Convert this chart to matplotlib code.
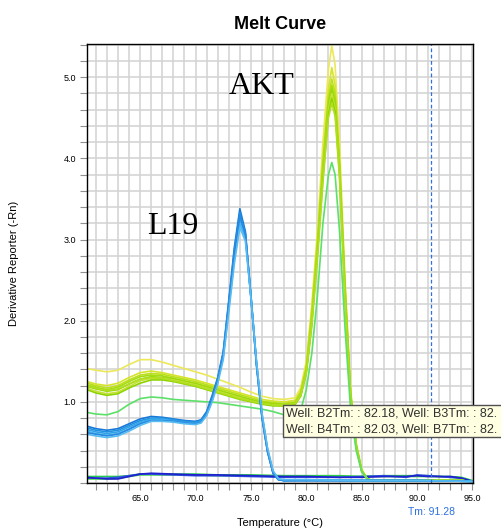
import numpy as np
import matplotlib
matplotlib.use('Agg')
import matplotlib.pyplot as plt
from matplotlib.patches import Rectangle
from matplotlib.ticker import MultipleLocator, FormatStrFormatter

plt.rcParams['font.family'] = ['Liberation Sans', 'DejaVu Sans']

# AKT wells (8 main + 1 low)
akt_temp = [60.2, 61, 62, 63, 64, 65, 66, 67, 68, 69, 70, 71, 72, 73, 74, 75, 76, 77, 78, 79,
            79.5, 80, 80.5, 81, 81.5, 82, 82.3, 82.6, 83, 83.5, 84, 84.5, 85, 85.5, 86, 88, 90, 92, 94, 95]
akt_wells = [
    [1.41, 1.39, 1.37, 1.39, 1.46, 1.52, 1.52, 1.49, 1.45, 1.41, 1.37, 1.33, 1.28, 1.23, 1.18, 1.12, 1.07, 1.04, 1.03, 1.05,
     1.18, 1.50, 2.20, 3.10, 4.20, 5.10, 5.39, 5.15, 4.20, 2.50, 1.15, 0.50, 0.17, 0.05, 0.03, 0.03, 0.03, 0.03, 0.03, 0.02],
    [1.25, 1.22, 1.20, 1.23, 1.30, 1.36, 1.38, 1.36, 1.33, 1.30, 1.27, 1.23, 1.19, 1.15, 1.11, 1.07, 1.03, 1.01, 1.00, 1.02,
     1.14, 1.45, 2.15, 3.00, 4.00, 4.85, 5.12, 4.90, 4.00, 2.45, 1.12, 0.48, 0.16, 0.05, 0.03, 0.03, 0.03, 0.03, 0.03, 0.02],
    [1.23, 1.20, 1.17, 1.20, 1.27, 1.33, 1.35, 1.34, 1.31, 1.28, 1.25, 1.21, 1.17, 1.13, 1.09, 1.05, 1.01, 0.99, 0.98, 1.00,
     1.12, 1.42, 2.10, 2.95, 3.95, 4.75, 4.98, 4.80, 3.95, 2.40, 1.10, 0.48, 0.16, 0.05, 0.03, 0.03, 0.03, 0.03, 0.03, 0.02],
    [1.21, 1.18, 1.15, 1.18, 1.25, 1.31, 1.33, 1.32, 1.29, 1.26, 1.23, 1.19, 1.15, 1.11, 1.07, 1.03, 1.00, 0.98, 0.97, 0.99,
     1.10, 1.40, 2.05, 2.90, 3.90, 4.70, 4.90, 4.72, 3.90, 2.35, 1.08, 0.46, 0.15, 0.05, 0.03, 0.03, 0.03, 0.03, 0.03, 0.02],
    [1.19, 1.16, 1.13, 1.15, 1.22, 1.28, 1.31, 1.30, 1.28, 1.25, 1.22, 1.18, 1.14, 1.10, 1.06, 1.02, 0.99, 0.97, 0.96, 0.98,
     1.09, 1.38, 2.00, 2.85, 3.85, 4.65, 4.85, 4.68, 3.88, 2.35, 1.10, 0.47, 0.15, 0.05, 0.03, 0.03, 0.03, 0.03, 0.03, 0.02],
    [1.17, 1.13, 1.10, 1.12, 1.19, 1.26, 1.29, 1.29, 1.27, 1.24, 1.21, 1.17, 1.13, 1.09, 1.05, 1.01, 0.98, 0.96, 0.95, 0.97,
     1.08, 1.37, 2.00, 2.85, 3.80, 4.60, 4.80, 4.62, 3.85, 2.30, 1.05, 0.45, 0.15, 0.05, 0.03, 0.03, 0.03, 0.03, 0.03, 0.02],
    [1.15, 1.11, 1.08, 1.10, 1.17, 1.23, 1.27, 1.27, 1.25, 1.22, 1.19, 1.15, 1.11, 1.07, 1.03, 1.00, 0.97, 0.95, 0.95, 0.97,
     1.07, 1.35, 1.95, 2.80, 3.75, 4.55, 4.74, 4.58, 3.80, 2.30, 1.05, 0.45, 0.15, 0.05, 0.03, 0.03, 0.03, 0.03, 0.03, 0.02],
    [1.20, 1.17, 1.14, 1.16, 1.22, 1.28, 1.30, 1.29, 1.26, 1.23, 1.20, 1.16, 1.12, 1.08, 1.04, 1.01, 0.98, 0.96, 0.96, 0.98,
     1.08, 1.36, 1.95, 2.75, 3.70, 4.50, 4.68, 4.52, 3.75, 2.25, 1.02, 0.44, 0.14, 0.05, 0.03, 0.03, 0.03, 0.03, 0.03, 0.02],
    [0.87, 0.85, 0.84, 0.88, 0.97, 1.04, 1.06, 1.05, 1.03, 1.02, 1.01, 1.00, 0.99, 0.97, 0.95, 0.93, 0.91, 0.88, 0.84, 0.82,
     0.90, 1.15, 1.60, 2.30, 3.20, 3.80, 3.95, 3.80, 3.10, 1.90, 0.90, 0.40, 0.14, 0.05, 0.03, 0.03, 0.03, 0.03, 0.03, 0.02],
]
akt_colors = ['#ece85a', '#d6e42c', '#bce01c', '#a6dc10', '#9ad808', '#c6e236', '#8ed400', '#b2de22', '#5ce068']

# L19 wells
l19_temp = [60.2, 61, 62, 63, 64, 65, 66, 67, 68, 69, 70, 70.5, 71, 71.5, 72, 72.5, 73, 73.5, 74, 74.5,
            75, 75.5, 76, 76.5, 77, 77.5, 78, 80, 85, 90, 95]
l19_wells = [
    [0.70, 0.67, 0.65, 0.67, 0.73, 0.79, 0.82, 0.81, 0.79, 0.77, 0.76, 0.78, 0.88, 1.08, 1.30, 1.62, 2.25, 2.90, 3.38, 3.10,
     2.30, 1.45, 0.80, 0.38, 0.12, 0.04, 0.03, 0.03, 0.03, 0.03, 0.02],
    [0.68, 0.65, 0.63, 0.65, 0.71, 0.77, 0.80, 0.80, 0.78, 0.76, 0.75, 0.77, 0.86, 1.05, 1.28, 1.60, 2.22, 2.86, 3.33, 3.08,
     2.32, 1.48, 0.82, 0.40, 0.13, 0.04, 0.03, 0.03, 0.03, 0.03, 0.02],
    [0.66, 0.63, 0.61, 0.63, 0.69, 0.75, 0.79, 0.79, 0.77, 0.75, 0.74, 0.76, 0.85, 1.03, 1.26, 1.57, 2.18, 2.80, 3.25, 3.05,
     2.30, 1.48, 0.83, 0.40, 0.13, 0.04, 0.03, 0.04, 0.03, 0.03, 0.02],
    [0.64, 0.61, 0.59, 0.61, 0.67, 0.74, 0.78, 0.78, 0.76, 0.74, 0.73, 0.75, 0.84, 1.02, 1.25, 1.55, 2.15, 2.76, 3.20, 3.02,
     2.30, 1.50, 0.85, 0.42, 0.14, 0.05, 0.04, 0.04, 0.03, 0.03, 0.02],
    [0.62, 0.60, 0.58, 0.60, 0.66, 0.73, 0.77, 0.77, 0.76, 0.74, 0.73, 0.75, 0.85, 1.04, 1.27, 1.58, 2.20, 2.82, 3.30, 3.06,
     2.28, 1.46, 0.81, 0.39, 0.12, 0.04, 0.03, 0.03, 0.03, 0.03, 0.02],
    [0.60, 0.58, 0.56, 0.58, 0.64, 0.71, 0.76, 0.76, 0.75, 0.73, 0.72, 0.74, 0.83, 1.00, 1.22, 1.52, 2.10, 2.70, 3.15, 2.98,
     2.28, 1.50, 0.86, 0.43, 0.15, 0.05, 0.04, 0.04, 0.03, 0.03, 0.02],
]
l19_colors = ['#1878d8', '#2090e0', '#30a0e8', '#46b4f0', '#2888e0', '#58bcf2']

# no-template controls
ntc_temp = [60.2, 61, 62, 63, 64, 65, 66, 68, 70, 72, 75, 78, 80, 83, 85, 87, 89, 90, 91, 92, 93, 94, 95]
ntc_wells = [
    [0.08, 0.08, 0.08, 0.08, 0.09, 0.11, 0.11, 0.11, 0.11, 0.10, 0.10, 0.09, 0.09, 0.09, 0.08, 0.09, 0.09, 0.09, 0.09, 0.08, 0.08, 0.07, 0.03],
    [0.05, 0.05, 0.05, 0.06, 0.08, 0.10, 0.10, 0.10, 0.10, 0.09, 0.09, 0.08, 0.08, 0.08, 0.08, 0.08, 0.08, 0.08, 0.08, 0.08, 0.07, 0.06, 0.02],
    [0.06, 0.06, 0.06, 0.07, 0.09, 0.11, 0.11, 0.10, 0.09, 0.09, 0.08, 0.07, 0.07, 0.07, 0.08, 0.09, 0.07, 0.10, 0.09, 0.08, 0.07, 0.06, 0.02],
    [0.07, 0.06, 0.05, 0.05, 0.08, 0.11, 0.12, 0.11, 0.10, 0.10, 0.09, 0.08, 0.08, 0.07, 0.07, 0.08, 0.08, 0.09, 0.08, 0.08, 0.08, 0.06, 0.02],
]
ntc_colors = ['#28c850', '#44d444', '#3050e0', '#2020d0']

tm_line = 91.28
tooltip_lines = ['Well: B2Tm: : 82.18, Well: B3Tm: : 82.', 'Well: B4Tm: : 82.03, Well: B7Tm: : 82.']

fig = plt.figure(figsize=(5.02, 5.30), dpi=100)
ax = fig.add_axes([87 / 502, 47 / 530, 386 / 502, 439 / 530])

for ys, c in zip(ntc_wells, ntc_colors):
    ax.plot(ntc_temp, ys, color=c, lw=1.2)
for ys, c in zip(akt_wells, akt_colors):
    ax.plot(akt_temp, ys, color=c, lw=1.2)
for ys, c in zip(l19_wells, l19_colors):
    ax.plot(l19_temp, ys, color=c, lw=1.2)

ax.axvline(tm_line, color='#3070e0', lw=0.9, ls=(0, (3, 2)))

ax.set_xlim(60.2, 95.05)
ax.set_ylim(0, 5.41)
ax.xaxis.set_major_locator(MultipleLocator(5))
ax.xaxis.set_minor_locator(MultipleLocator(1))
ax.yaxis.set_major_locator(MultipleLocator(1))
ax.yaxis.set_minor_locator(MultipleLocator(0.2))
ax.xaxis.set_major_formatter(FormatStrFormatter('%.1f'))
ax.yaxis.set_major_formatter(FormatStrFormatter('%.1f'))
ax.set_yticks([1, 2, 3, 4, 5])
ax.grid(which='both', color='#d2d2d2', lw=1.1)
ax.set_axisbelow(True)
ax.tick_params(which='both', direction='out', length=5, width=0.8, color='#909090',
               labelsize=6.5, top=False, right=False, pad=3)
for s in ax.spines.values():
    s.set_linewidth(1.0)
    s.set_color('black')

ax.set_xlabel('Temperature (°C)', fontsize=8, labelpad=11)
ax.set_ylabel('Derivative Reporter (-Rn)', fontsize=8, labelpad=32)
ax.set_title('Melt Curve', fontsize=13, fontweight='bold', pad=11)

ax.text(75.93, 4.89, 'AKT', fontsize=23, family='Liberation Serif', ha='center', va='center')
ax.text(67.98, 3.16, 'L19', fontsize=23, family='Liberation Serif', ha='center', va='center')
ax.text(tm_line, -0.355, 'Tm: ' + str(tm_line), color='#2a6fe0', fontsize=7.5,
        ha='center', va='center', transform=ax.transData, clip_on=False)

# tooltip box
fig.patches.append(Rectangle((283 / 502, 93 / 530), 240 / 502, 32 / 530, transform=fig.transFigure,
                             facecolor='#ffffe1', edgecolor='#505050', lw=1.0, zorder=5))
fig.text(286 / 502, 117 / 530, tooltip_lines[0], fontsize=9, color='#303030', va='center', zorder=6)
fig.text(286 / 502, 101 / 530, tooltip_lines[1], fontsize=9, color='#303030', va='center', zorder=6)

fig.savefig('out.png', dpi=100)
